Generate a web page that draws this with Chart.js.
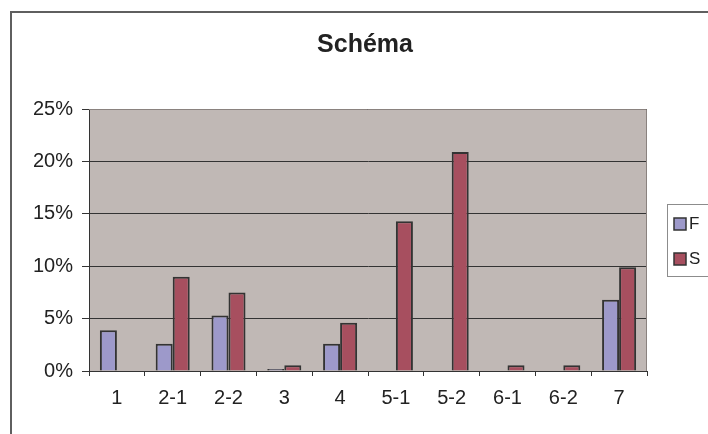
<!DOCTYPE html>
<html>
<head>
<meta charset="utf-8">
<script src="https://cdn.jsdelivr.net/npm/chart.js@4"></script>
<style>
html,body{margin:0;padding:0;background:#fff;}
canvas{display:block;}
</style>
</head>
<body>
<canvas id="c" width="708" height="434"></canvas>
<script>
const titleText = 'Schéma';
const categories = ['1','2-1','2-2','3','4','5-1','5-2','6-1','6-2','7'];
const seriesNames = ['F','S'];
const seriesF = [3.9, 2.6, 5.3, 0.2, 2.6, 0, 0, 0, 0, 6.8];
const seriesS = [0, 9.0, 7.5, 0.55, 4.6, 14.3, 20.9, 0.55, 0.55, 9.9];
const yTicks = [0, 5, 10, 15, 20, 25];

const colF = '#9d99ca';
const colS = '#a74f5f';
const plotBg = '#c0b8b5';
const font = '"Liberation Sans", Arial, sans-serif';

const decor = {
  id: 'decor',
  beforeDraw(chart) {
    const {ctx, chartArea: a} = chart;
    ctx.save();
    ctx.fillStyle = plotBg;
    ctx.fillRect(a.left, a.top, a.right - a.left, a.bottom - a.top);
    ctx.restore();
  },
  afterDraw(chart) {
    const {ctx, chartArea: a} = chart;
    ctx.save();
    // plot area top/right border
    ctx.strokeStyle = '#8a827f';
    ctx.lineWidth = 1;
    ctx.beginPath();
    ctx.moveTo(a.left, a.top + 0.5);
    ctx.lineTo(a.right - 0.5, a.top + 0.5);
    ctx.lineTo(a.right - 0.5, a.bottom);
    ctx.stroke();
    // outer chart border
    ctx.strokeStyle = '#5f5f5f';
    ctx.lineWidth = 2;
    ctx.beginPath();
    ctx.moveTo(11, 440);
    ctx.lineTo(11, 12);
    ctx.lineTo(720, 12);
    ctx.stroke();
    // title
    ctx.fillStyle = '#222';
    ctx.font = 'bold 25px ' + font;
    ctx.textAlign = 'center';
    ctx.textBaseline = 'alphabetic';
    ctx.fillText(titleText, 365, 52);
    // legend
    ctx.strokeStyle = '#8c8c8c';
    ctx.lineWidth = 1;
    ctx.strokeRect(667.5, 204.5, 60, 72);
    const cols = [colF, colS];
    const ys = [224, 259];
    ctx.font = '17px ' + font;
    ctx.textAlign = 'left';
    ctx.textBaseline = 'middle';
    seriesNames.forEach((n, i) => {
      ctx.fillStyle = cols[i];
      ctx.fillRect(674, ys[i] - 6, 12, 12);
      ctx.strokeStyle = '#333';
      ctx.lineWidth = 1.5;
      ctx.strokeRect(674, ys[i] - 6, 12, 12);
      ctx.fillStyle = '#222';
      ctx.fillText(n, 689, ys[i] + 0.5);
    });
    ctx.restore();
  }
};

new Chart(document.getElementById('c'), {
  type: 'bar',
  data: {
    labels: categories,
    datasets: [
      {label: seriesNames[0], data: seriesF, backgroundColor: colF, borderColor: '#333', borderWidth: 2, borderSkipped: 'start'},
      {label: seriesNames[1], data: seriesS, backgroundColor: colS, borderColor: '#333', borderWidth: 2, borderSkipped: 'start'}
    ]
  },
  options: {
    responsive: false,
    animation: false,
    devicePixelRatio: 1,
    layout: {padding: {left: 8, right: 61, top: 109, bottom: 23}},
    plugins: {legend: {display: false}, title: {display: false}, tooltip: {enabled: false}},
    datasets: {bar: {categoryPercentage: 0.61, barPercentage: 1.0}},
    scales: {
      x: {
        afterFit(s) { s.height = 40; },
        grid: {offset: true, drawOnChartArea: false, drawTicks: true, tickLength: 5, color: '#333', tickColor: '#333'},
        border: {display: true, color: '#333', width: 1},
        ticks: {color: '#222', font: {family: font, size: 20}, padding: 10, maxRotation: 0, autoSkip: false}
      },
      y: {
        min: 0, max: 25,
        afterFit(s) { s.width = 81; },
        afterBuildTicks(s) { s.ticks = yTicks.map(v => ({value: v})); },
        grid: {color: '#333', lineWidth: 1, drawTicks: true, tickLength: 7, tickColor: '#333'},
        border: {display: true, color: '#333', width: 1},
        ticks: {color: '#222', font: {family: font, size: 20}, padding: 9, callback: v => v + '%'}
      }
    }
  },
  plugins: [decor]
});
</script>
</body>
</html>
